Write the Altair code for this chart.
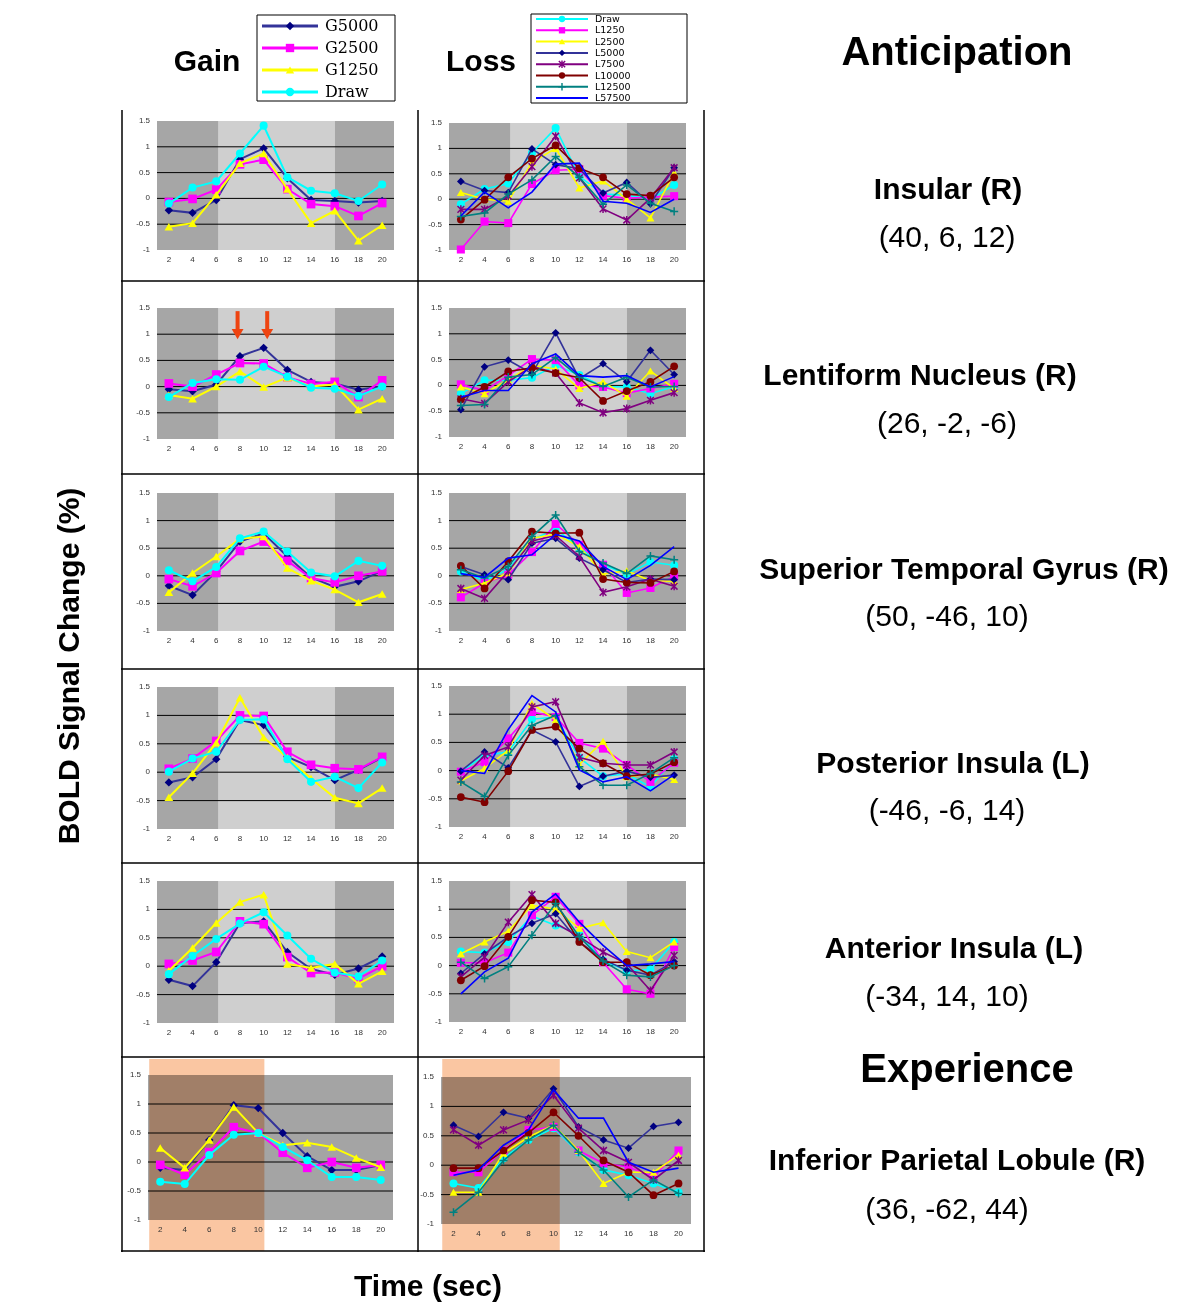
import altair as alt
import pandas as pd

# ---------------- data ----------------
times = [2, 4, 6, 8, 10, 12, 14, 16, 18, 20]
ytick_values = [1.5, 1, 0.5, 0, -0.5, -1]
ytick_labels = ["1.5", "1", "0.5", "0", "-0.5", "-1"]
grid_values = [1, 0.5, 0, -0.5]

gain_names = ["G5000", "G2500", "G1250", "Draw"]
loss_names = ["Draw", "L1250", "L2500", "L5000", "L7500", "L10000", "L12500", "L57500"]

regions = ["Insular (R)", "Lentiform Nucleus (R)", "Superior Temporal Gyrus (R)",
           "Posterior Insula (L)", "Anterior Insula (L)", "Inferior Parietal Lobule (R)"]
coords = ["(40, 6, 12)", "(26, -2, -6)", "(50, -46, 10)",
          "(-46, -6, 14)", "(-34, 14, 10)", "(36, -62, 44)"]
column_titles = ["Gain", "Loss"]
phase_titles = ["Anticipation", "Experience"]
y_title = "BOLD Signal Change (%)"
x_title = "Time (sec)"
arrow_times = [7.8, 10.3]

gain_insular = {
    "G5000": [-0.23, -0.28, -0.03, 0.76, 0.97, 0.39, -0.03, -0.05, -0.08, -0.05],
    "G2500": [-0.07, -0.01, 0.17, 0.66, 0.75, 0.18, -0.11, -0.15, -0.34, -0.09],
    "G1250": [-0.55, -0.48, 0.07, 0.68, 0.87, 0.18, -0.48, -0.24, -0.82, -0.52],
    "Draw":  [-0.10, 0.21, 0.33, 0.87, 1.41, 0.41, 0.15, 0.10, -0.05, 0.27],
}
loss_insular = {
    "Draw":   [-0.10, 0.20, 0.31, 0.91, 1.40, 0.45, 0.10, 0.08, 0.00, 0.28],
    "L1250":  [-0.99, -0.44, -0.47, 0.30, 0.57, 0.59, 0.07, 0.02, 0.04, 0.06],
    "L2500":  [0.13, 0.00, -0.04, 0.72, 1.00, 0.22, 0.36, 0.00, -0.37, 0.52],
    "L5000":  [0.35, 0.17, 0.13, 0.99, 0.68, 0.60, 0.12, 0.33, -0.09, 0.62],
    "L7500":  [-0.20, -0.20, 0.06, 0.64, 1.24, 0.42, -0.19, -0.41, 0.02, 0.62],
    "L10000": [-0.40, -0.01, 0.43, 0.80, 1.06, 0.61, 0.43, 0.10, 0.07, 0.43],
    "L12500": [-0.34, -0.27, 0.10, 0.38, 0.84, 0.43, -0.10, 0.28, -0.08, -0.24],
    "L57500": [-0.33, 0.14, -0.17, 0.14, 0.69, 0.71, -0.04, -0.08, -0.26, 0.00],
}
gain_lentiform = {
    "G5000": [-0.05, -0.09, 0.04, 0.58, 0.74, 0.32, 0.09, 0.06, -0.06, 0.00],
    "G2500": [0.06, 0.00, 0.23, 0.45, 0.44, 0.18, 0.05, 0.09, -0.20, 0.12],
    "G1250": [-0.16, -0.23, 0.00, 0.29, -0.01, 0.17, 0.00, 0.04, -0.44, -0.23],
    "Draw":  [-0.20, 0.07, 0.14, 0.13, 0.38, 0.19, -0.02, -0.04, -0.18, 0.00],
}
loss_lentiform = {
    "Draw":   [-0.16, 0.10, 0.10, 0.15, 0.39, 0.20, -0.02, -0.03, -0.16, -0.02],
    "L1250":  [0.02, -0.10, 0.19, 0.51, 0.49, 0.00, -0.03, -0.15, -0.06, 0.03],
    "L2500":  [-0.03, -0.16, 0.11, 0.39, 0.32, -0.06, 0.07, -0.21, 0.28, -0.06],
    "L5000":  [-0.47, 0.36, 0.49, 0.23, 1.02, 0.13, 0.42, 0.07, 0.68, 0.21],
    "L7500":  [-0.26, -0.35, 0.07, 0.37, 0.24, -0.34, -0.53, -0.45, -0.29, -0.14],
    "L10000": [-0.27, -0.03, 0.27, 0.34, 0.24, 0.15, -0.30, -0.11, 0.07, 0.37],
    "L12500": [-0.39, -0.37, 0.16, 0.21, 0.54, 0.16, -0.02, 0.16, -0.03, -0.02],
    "L57500": [-0.23, -0.10, -0.10, 0.42, 0.61, 0.19, 0.16, 0.19, -0.03, 0.17],
}
gain_stg = {
    "G5000": [-0.18, -0.35, 0.08, 0.62, 0.77, 0.35, -0.03, -0.20, -0.10, 0.09],
    "G2500": [-0.06, -0.19, 0.05, 0.45, 0.62, 0.27, -0.04, -0.12, 0.00, 0.08],
    "G1250": [-0.30, 0.05, 0.35, 0.67, 0.71, 0.14, -0.09, -0.25, -0.48, -0.33],
    "Draw":  [0.10, -0.10, 0.16, 0.68, 0.80, 0.44, 0.06, -0.01, 0.27, 0.18],
}
loss_stg = {
    "Draw":   [0.08, -0.09, 0.12, 0.65, 0.85, 0.51, 0.20, 0.03, 0.25, 0.19],
    "L1250":  [-0.39, -0.13, 0.02, 0.43, 0.94, 0.56, 0.20, -0.31, -0.22, -0.01],
    "L2500":  [-0.25, -0.13, 0.05, 0.68, 0.75, 0.53, 0.03, 0.09, -0.09, -0.10],
    "L5000":  [0.17, 0.02, -0.07, 0.59, 0.68, 0.32, 0.11, -0.12, -0.06, -0.07],
    "L7500":  [-0.23, -0.41, 0.08, 0.63, 0.73, 0.35, -0.30, -0.20, -0.06, -0.19],
    "L10000": [0.18, -0.23, 0.26, 0.80, 0.77, 0.78, -0.06, -0.12, -0.13, 0.08],
    "L12500": [0.11, -0.04, 0.17, 0.71, 1.10, 0.44, 0.23, 0.04, 0.36, 0.29],
    "L57500": [0.04, -0.03, 0.32, 0.38, 0.75, 0.63, 0.17, -0.07, 0.19, 0.53],
}
gain_post_insula = {
    "G5000": [-0.18, -0.09, 0.23, 0.92, 0.83, 0.27, 0.09, -0.14, 0.04, 0.26],
    "G2500": [0.06, 0.24, 0.55, 1.00, 0.99, 0.36, 0.13, 0.07, 0.05, 0.27],
    "G1250": [-0.44, -0.02, 0.52, 1.31, 0.61, 0.26, -0.11, -0.45, -0.55, -0.28],
    "Draw":  [0.01, 0.24, 0.36, 0.92, 0.93, 0.23, -0.17, -0.08, -0.28, 0.17],
}
loss_post_insula = {
    "Draw":   [-0.02, 0.27, 0.33, 0.91, 0.95, 0.23, -0.10, -0.06, -0.29, 0.20],
    "L1250":  [-0.02, 0.15, 0.57, 1.04, 0.95, 0.49, 0.39, 0.10, -0.20, 0.14],
    "L2500":  [-0.18, 0.04, 0.36, 1.19, 0.90, 0.11, 0.52, -0.11, -0.06, -0.16],
    "L5000":  [-0.01, 0.33, 0.05, 0.72, 0.51, -0.28, -0.10, -0.01, -0.12, -0.08],
    "L7500":  [-0.17, 0.27, 0.42, 1.13, 1.22, 0.23, 0.13, 0.10, 0.10, 0.33],
    "L10000": [-0.47, -0.56, -0.01, 0.72, 0.78, 0.39, 0.13, -0.10, -0.06, 0.15],
    "L12500": [-0.20, -0.46, 0.27, 0.80, 0.98, 0.07, -0.26, -0.26, -0.05, 0.23],
    "L57500": [0.00, -0.05, 0.73, 1.33, 1.04, 0.01, -0.20, -0.11, -0.36, -0.07],
}
gain_ant_insula = {
    "G5000": [-0.24, -0.35, 0.07, 0.76, 0.79, 0.25, -0.05, -0.15, -0.04, 0.17],
    "G2500": [0.04, 0.10, 0.25, 0.79, 0.74, 0.16, -0.12, -0.11, -0.22, 0.00],
    "G1250": [-0.08, 0.32, 0.76, 1.13, 1.26, 0.04, -0.03, 0.04, -0.31, -0.09],
    "Draw":  [-0.14, 0.18, 0.48, 0.75, 0.95, 0.54, 0.13, -0.11, -0.18, 0.10],
}
loss_ant_insula = {
    "Draw":   [0.25, 0.23, 0.42, 0.88, 0.71, 0.57, 0.09, -0.09, -0.07, 0.42],
    "L1250":  [0.05, 0.05, 0.23, 0.89, 1.22, 0.74, 0.06, -0.42, -0.50, 0.33],
    "L2500":  [0.21, 0.42, 0.61, 1.07, 1.00, 0.66, 0.76, 0.25, 0.14, 0.42],
    "L5000":  [-0.14, 0.21, 0.51, 0.75, 0.92, 0.42, 0.11, -0.08, -0.17, 0.07],
    "L7500":  [-0.20, 0.15, 0.77, 1.26, 0.75, 0.51, 0.24, 0.03, -0.44, 0.18],
    "L10000": [-0.26, -0.01, 0.51, 1.16, 1.12, 0.42, 0.06, 0.06, -0.17, 0.00],
    "L12500": [0.06, -0.23, -0.02, 0.54, 1.10, 0.51, 0.08, -0.17, -0.20, 0.00],
    "L57500": [-0.50, -0.11, 0.13, 0.95, 1.27, 0.77, 0.36, 0.00, 0.03, 0.07],
}
gain_ipl = {
    "G5000": [-0.10, -0.14, 0.38, 0.98, 0.93, 0.50, 0.10, -0.14, -0.14, -0.05],
    "G2500": [-0.05, -0.22, 0.17, 0.60, 0.50, 0.16, -0.10, 0.00, -0.10, -0.05],
    "G1250": [0.24, -0.10, 0.38, 0.95, 0.50, 0.29, 0.33, 0.26, 0.07, -0.09],
    "Draw":  [-0.34, -0.38, 0.12, 0.47, 0.50, 0.26, 0.03, -0.26, -0.26, -0.31],
}
loss_ipl = {
    "Draw":   [-0.31, -0.39, 0.12, 0.43, 0.63, 0.22, -0.08, -0.17, -0.31, -0.46],
    "L1250":  [-0.12, -0.12, 0.25, 0.60, 0.65, 0.25, 0.03, -0.03, -0.20, 0.25],
    "L2500":  [-0.46, -0.46, 0.20, 0.48, 0.68, 0.25, -0.31, -0.12, -0.12, 0.17],
    "L5000":  [0.68, 0.49, 0.90, 0.80, 1.30, 0.65, 0.43, 0.29, 0.66, 0.73],
    "L7500":  [0.60, 0.34, 0.60, 0.77, 1.19, 0.63, 0.25, 0.05, -0.25, 0.08],
    "L10000": [-0.05, -0.05, 0.25, 0.55, 0.90, 0.50, 0.08, -0.12, -0.51, -0.31],
    "L12500": [-0.80, -0.46, 0.08, 0.43, 0.68, 0.22, -0.08, -0.54, -0.25, -0.48],
    "L57500": [-0.17, -0.08, 0.34, 0.60, 1.28, 0.80, 0.80, 0.05, -0.12, -0.05],
}
gain_rows = [gain_insular, gain_lentiform, gain_stg, gain_post_insula, gain_ant_insula, gain_ipl]
loss_rows = [loss_insular, loss_lentiform, loss_stg, loss_post_insula, loss_ant_insula, loss_ipl]

# ---------------- styles ----------------
SANS = "Liberation Sans"
DARK, LIGHT, EXP_BG = "#a6a6a6", "#cfcfcf", "#a4a4a4"
PEACH = "#fac6a2"
STAR = "M-1,-1L1,1M-1,1L1,-1M0,-1.2L0,1.2"
PLUS = "M-1.2,0L1.2,0M0,-1.2L0,1.2"
style = {
    "G5000":  dict(color="#000080", line="#333399", shape="diamond", size=70, filled=True),
    "G2500":  dict(color="#FF00FF", line="#FF00FF", shape="square", size=75, filled=True),
    "G1250":  dict(color="#FFFF00", line="#FFFF00", shape="triangle-up", size=75, filled=True),
    "Draw":   dict(color="#00FFFF", line="#00FFFF", shape="circle", size=65, filled=True),
    "L1250":  dict(color="#FF00FF", line="#FF00FF", shape="square", size=65, filled=True),
    "L2500":  dict(color="#FFFF00", line="#FFFF00", shape="triangle-up", size=65, filled=True),
    "L5000":  dict(color="#000080", line="#333399", shape="diamond", size=60, filled=True),
    "L7500":  dict(color="#800080", line="#800080", shape=STAR, size=45, filled=False),
    "L10000": dict(color="#800000", line="#800000", shape="circle", size=60, filled=True),
    "L12500": dict(color="#008080", line="#008080", shape=PLUS, size=45, filled=False),
    "L57500": dict(color="#0000FF", line="#0000FF", shape=None, size=0, filled=True),
}

# ---------------- layout (page pixels) ----------------
row_cells = [(110, 282), (282, 475), (475, 670), (670, 864), (864, 1058), (1058, 1252)]
GAIN_X, LOSS_X = (121, 419), (419, 705)
LEFT_W, RIGHT_W, HEAD_H, FOOT_H = 113, 487, 102, 48
gain_plot_x = [(157, 394)] * 5 + [(148, 393)]
loss_plot_x = [(449, 686)] * 5 + [(441, 691)]
gain_plot_y = [(121, 250), (308, 439), (493, 631), (687, 829), (881, 1023), (1075, 1220)]
loss_plot_y = [(123, 250), (308, 437), (493, 631), (686, 827), (881, 1022), (1077, 1224)]
name_x = [243, 215, 259, 248, 249, 252]
name_y = [80, 94, 95, 94, 85, 103]
coord_y = [128, 142, 142, 141, 133, 152]
one = pd.DataFrame({"a": [0]})


def px(f):
    return alt.X(f, type="quantitative", scale=None, axis=None)


def py(f):
    return alt.Y(f, type="quantitative", scale=None, axis=None)


def spacer(W, H):
    return alt.Chart(one).mark_rule(opacity=0).encode(
        x=alt.value(0), y=alt.value(0), y2=alt.value(1)).properties(width=W, height=H)


def panel(values, names, cellx, celly, plotx, ploty, lw, experience=False, arrows=False, left_border=False):
    cl, cr = cellx
    ct, cb = celly
    pl, pr = plotx
    pt, pb = ploty
    W, H = cr - cl, cb - ct
    kx = (pr - pl) / 20.0
    ky = (pb - pt) / 2.5
    X = alt.Scale(domain=[1 - (pl - cl) / kx, 21 + (cr - pr) / kx], nice=False, zero=False)
    Y = alt.Scale(domain=[-1 - (cb - pb) / ky, 1.5 + (pt - ct) / ky], nice=False, zero=False)

    def xe(f):
        return alt.X(f, type="quantitative", scale=X, axis=None)

    def ye(f):
        return alt.Y(f, type="quantitative", scale=Y, axis=None)

    layers = []
    if experience:
        zones = pd.DataFrame({"x0": [1], "x1": [21], "fill": [EXP_BG]})
    else:
        zones = pd.DataFrame({"x0": [1, 6.2, 16], "x1": [6.2, 16, 21], "fill": [DARK, LIGHT, DARK]})
    zones["y0"] = -1
    zones["y1"] = 1.5
    layers.append(alt.Chart(zones).mark_rect().encode(
        x=xe("x0"), x2="x1", y=ye("y0"), y2="y1", color=alt.Color("fill:N", scale=None)))
    grid = pd.DataFrame({"y": grid_values, "x0": 1, "x1": 21})
    layers.append(alt.Chart(grid).mark_rule(color="black", strokeWidth=1).encode(
        x=xe("x0"), x2="x1", y=ye("y")))
    if experience:
        band = pd.DataFrame({"x0": [1.1], "x1": [10.5]})
        layers.append(alt.Chart(band).mark_rect(color=PEACH, blend="multiply").encode(
            x=xe("x0"), x2="x1", y=alt.value(1), y2=alt.value(H - 1)))
    yl = pd.DataFrame({"y": ytick_values, "lab": ytick_labels, "x": 1})
    layers.append(alt.Chart(yl).mark_text(align="right", baseline="middle", dx=-7, fontSize=8,
                                          color="#333333", font=SANS).encode(
        x=xe("x"), y=ye("y"), text="lab:N"))
    xl = pd.DataFrame({"t": times, "lab": [str(t) for t in times], "y": -1})
    layers.append(alt.Chart(xl).mark_text(align="center", baseline="middle", dy=10, fontSize=8,
                                          color="#333333", font=SANS).encode(
        x=xe("t"), y=ye("y"), text="lab:N"))
    for name in names:
        s = style[name]
        df = pd.DataFrame({"t": times, "v": values[name]})
        base = alt.Chart(df).encode(x=xe("t"), y=ye("v"))
        layers.append(base.mark_line(color=s["line"], strokeWidth=lw))
        if s["shape"]:
            layers.append(base.mark_point(shape=s["shape"], size=s["size"], filled=s["filled"],
                                          color=s["color"], opacity=1, strokeWidth=1.5))
    if arrows:
        ar = pd.DataFrame({"t": arrow_times, "y0": 1.44, "y1": 1.06, "tip": 1.0})
        layers.append(alt.Chart(ar).mark_rule(color="#EE4411", strokeWidth=4).encode(
            x=xe("t"), y=ye("y0"), y2="y1"))
        layers.append(alt.Chart(ar).mark_point(shape="triangle-down", size=140, filled=True,
                                               color="#EE4411", opacity=1).encode(
            x=xe("t"), y=ye("tip")))
    layers.append(alt.Chart(one).mark_rule(color="black", strokeWidth=1.5).encode(
        x=alt.value(W - 1), y=alt.value(0), y2=alt.value(H)))
    layers.append(alt.Chart(one).mark_rule(color="black", strokeWidth=1.5).encode(
        x=alt.value(0), x2=alt.value(W), y=alt.value(H - 1)))
    if left_border:
        layers.append(alt.Chart(one).mark_rule(color="black", strokeWidth=1.5).encode(
            x=alt.value(1), y=alt.value(0), y2=alt.value(H)))
    return alt.layer(*layers).properties(width=W, height=H)


def right_cell(i, H):
    df = pd.DataFrame({"name": [regions[i]], "coord": [coords[i]]})
    layers = [
        alt.Chart(df).mark_text(fontSize=30, fontWeight="bold", font=SANS, baseline="middle",
                                align="center", color="black").encode(
            x=alt.value(name_x[i]), y=alt.value(name_y[i]), text="name:N"),
        alt.Chart(df).mark_text(fontSize=30, font=SANS, baseline="middle",
                                align="center", color="black").encode(
            x=alt.value(242), y=alt.value(coord_y[i]), text="coord:N"),
    ]
    if i == 5:
        ex = pd.DataFrame({"lab": [phase_titles[1]]})
        layers.append(alt.Chart(ex).mark_text(fontSize=40, fontWeight="bold", font=SANS,
                                              baseline="middle", align="center", color="black").encode(
            x=alt.value(262), y=alt.value(12), text="lab:N"))
    return alt.layer(*layers).properties(width=RIGHT_W, height=H)


def legend_layers(names, y0, step, lx0, lx1, tx, font, fsize, lw, msize):
    out = []
    for i, name in enumerate(names):
        s = style[name]
        d = pd.DataFrame({"lab": [name], "x0": [lx0], "x1": [lx1], "xm": [(lx0 + lx1) / 2],
                          "tx": [tx], "y": [y0 + step * i]})
        out.append(alt.Chart(d).mark_rule(color=s["line"], strokeWidth=lw).encode(
            x=px("x0"), x2="x1", y=py("y")))
        if s["shape"]:
            out.append(alt.Chart(d).mark_point(shape=s["shape"], size=msize, filled=s["filled"],
                                               color=s["color"], opacity=1, strokeWidth=1.4).encode(
                x=px("xm"), y=py("y")))
        out.append(alt.Chart(d).mark_text(align="left", baseline="middle", font=font, fontSize=fsize,
                                          color="black").encode(
            x=px("tx"), y=py("y"), text="lab:N"))
    return out


def header_cell(title, tx, box, legend_args, W):
    t = pd.DataFrame({"lab": [title], "x": [tx], "y": [54]})
    layers = [alt.Chart(t).mark_text(fontSize=30, fontWeight="bold", font=SANS,
                                     baseline="middle", align="center", color="black").encode(
        x=px("x"), y=py("y"), text="lab:N")]
    b = pd.DataFrame({"x0": [box[0]], "x1": [box[1]], "y0": [box[2]], "y1": [box[3]]})
    layers.append(alt.Chart(b).mark_rect(fill="white", stroke="black", strokeWidth=1).encode(
        x=px("x0"), x2="x1", y=py("y0"), y2="y1"))
    layers += legend_layers(*legend_args)
    return alt.layer(*layers).properties(width=W, height=HEAD_H)


gain_hdr = header_cell(column_titles[0], 86, (136, 274, 7, 93),
                       (gain_names, 18, 22, 141, 197, 204, "DejaVu Serif", 16, 3, 70),
                       GAIN_X[1] - GAIN_X[0])
loss_hdr = header_cell(column_titles[1], 62, (112, 268, 6, 95),
                       (loss_names, 11, 11.3, 117, 169, 176, "DejaVu Sans", 9.5, 2, 40),
                       LOSS_X[1] - LOSS_X[0])
ant = pd.DataFrame({"lab": [phase_titles[0]]})
right_hdr = alt.Chart(ant).mark_text(fontSize=40, fontWeight="bold", font=SANS, baseline="middle",
                                     align="center", color="black").encode(
    x=alt.value(252), y=alt.value(45), text="lab:N").properties(width=RIGHT_W, height=HEAD_H)

cells = [spacer(LEFT_W, HEAD_H), gain_hdr, loss_hdr, right_hdr]
for i in range(6):
    H = row_cells[i][1] - row_cells[i][0]
    if i == 2:
        ylab = pd.DataFrame({"lab": [y_title]})
        left = alt.Chart(ylab).mark_text(fontSize=30, fontWeight="bold", font=SANS, angle=270,
                                         baseline="middle", align="center", color="black").encode(
            x=alt.value(62), y=alt.value(666 - row_cells[2][0]), text="lab:N").properties(
            width=LEFT_W, height=H)
    else:
        left = spacer(LEFT_W, H)
    g = panel(gain_rows[i], gain_names, GAIN_X, row_cells[i], gain_plot_x[i], gain_plot_y[i], 2,
              experience=(i == 5), arrows=(i == 1), left_border=True)
    l = panel(loss_rows[i], loss_names, LOSS_X, row_cells[i], loss_plot_x[i], loss_plot_y[i], 1.6,
              experience=(i == 5))
    cells += [left, g, l, right_cell(i, H)]

xlab = pd.DataFrame({"lab": [x_title]})
foot = alt.Chart(xlab).mark_text(fontSize=30, fontWeight="bold", font=SANS,
                                 baseline="middle", align="center", color="black").encode(
    x=alt.value(428 - GAIN_X[0]), y=alt.value(35), text="lab:N").properties(
    width=GAIN_X[1] - GAIN_X[0], height=FOOT_H)
cells += [spacer(LEFT_W, FOOT_H), foot, spacer(LOSS_X[1] - LOSS_X[0], FOOT_H), spacer(RIGHT_W, FOOT_H)]

chart = alt.concat(*cells, columns=4, spacing=0, bounds="flush", align="each").properties(
    padding=0, background="white"
).configure_view(stroke=None, strokeWidth=0)

chart.save("out.html", embed_options={"renderer": "svg", "actions": False})
